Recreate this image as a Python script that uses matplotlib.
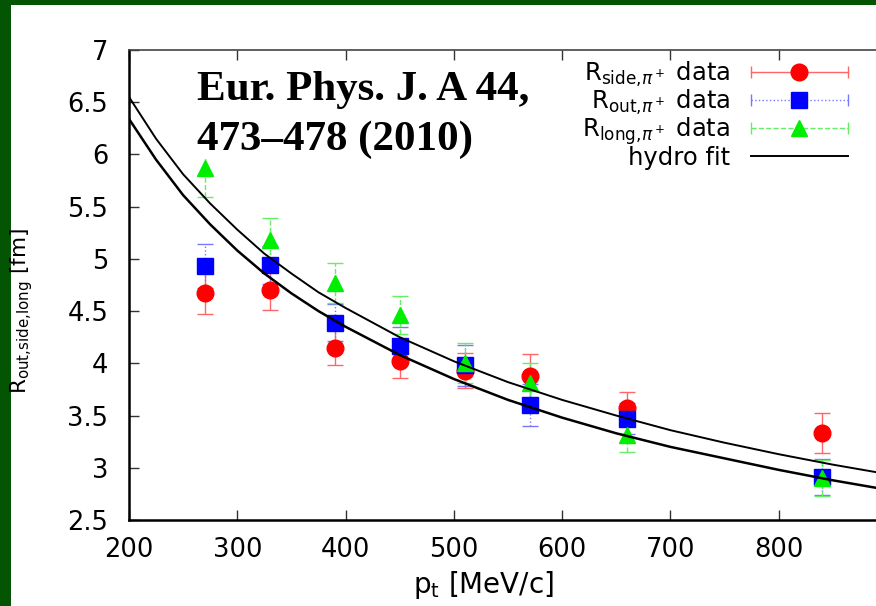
import matplotlib
matplotlib.use('Agg')
import matplotlib.pyplot as plt
from matplotlib.legend_handler import HandlerBase
from matplotlib.lines import Line2D
from matplotlib.patches import Rectangle

# pion HBT radii vs transverse momentum
pt = [270, 330, 390, 450, 510, 570, 660, 840]
r_side = [4.67, 4.70, 4.15, 4.02, 3.93, 3.88, 3.57, 3.33]
r_side_err = [0.20, 0.19, 0.17, 0.16, 0.17, 0.21, 0.16, 0.19]
r_out = [4.93, 4.94, 4.39, 4.17, 3.98, 3.60, 3.47, 2.91]
r_out_err = [0.21, 0.18, 0.18, 0.18, 0.20, 0.20, 0.15, 0.17]
r_long = [5.87, 5.18, 4.77, 4.46, 4.00, 3.81, 3.31, 2.90]
r_long_err = [0.28, 0.21, 0.19, 0.18, 0.19, 0.19, 0.16, 0.17]

# hydro fit curves
fit_pt = [200, 225, 250, 275, 300, 325, 350, 375, 400, 450, 500,
          550, 600, 650, 700, 750, 800, 850, 900]
fit_upper = [6.55, 6.15, 5.81, 5.53, 5.28, 5.05, 4.86, 4.68, 4.53, 4.25, 4.02,
             3.82, 3.65, 3.50, 3.36, 3.24, 3.13, 3.03, 2.94]
fit_lower = [6.34, 5.95, 5.61, 5.33, 5.08, 4.86, 4.67, 4.50, 4.35, 4.08, 3.85,
             3.65, 3.48, 3.33, 3.20, 3.09, 2.98, 2.88, 2.79]

yticks = [2.5, 3, 3.5, 4, 4.5, 5, 5.5, 6, 6.5, 7]
ytick_labels = ['2.5', '3', '3.5', '4', '4.5', '5', '5.5', '6', '6.5', '7']
xticks = [200, 300, 400, 500, 600, 700, 800]

ref_lines = ['Eur. Phys. J. A 44,', '473\u2013478 (2010)']

plt.rcParams['font.family'] = 'DejaVu Sans'
plt.rcParams['mathtext.fontset'] = 'dejavusans'


class GnuplotKey(HandlerBase):
    """key sample drawn like gnuplot: |----o----|"""

    def __init__(self, color, barcolor, ls, marker, ms):
        super().__init__()
        self.color = color
        self.barcolor = barcolor
        self.ls = ls
        self.marker = marker
        self.ms = ms

    def create_artists(self, legend, orig_handle, xdescent, ydescent,
                       width, height, fontsize, trans):
        x0, x1 = -xdescent, -xdescent + width
        y = height / 2 - ydescent
        bar = Line2D([x0, x1], [y, y], color=self.barcolor, ls=self.ls, lw=1)
        caps = Line2D([x0, x1], [y, y], ls='none', marker='|', ms=8,
                      color=self.barcolor, mew=1)
        mk = Line2D([(x0 + x1) / 2], [y], ls='none', marker=self.marker,
                    ms=self.ms, color=self.color)
        for a in (bar, caps, mk):
            a.set_transform(trans)
        return [bar, caps, mk]


fig = plt.figure(figsize=(8.76, 6.06), dpi=100, facecolor='#035403')
fig.patches.append(Rectangle((11 / 876, 0), 1, 1 - 5 / 606,
                             transform=fig.transFigure, facecolor='white',
                             edgecolor='none', zorder=-10))

ax = fig.add_axes([129 / 876, 86 / 606, 758 / 876, 470 / 606])
ax.set_facecolor('white')

series = [
    (r_side, r_side_err, '#ff0000', '#ff6666', '-', 'o', 12),
    (r_out, r_out_err, '#0000ff', '#7777ff', ':', 's', 11),
    (r_long, r_long_err, '#00ee00', '#66ee66', '--', '^', 12),
]
handles = []
hmap = {}
for vals, errs, col, barcol, ls, mk, ms in series:
    eb = ax.errorbar(pt, vals, yerr=errs, fmt=mk, color=col, ms=ms,
                     ecolor=barcol, elinewidth=1, capsize=6, capthick=1,
                     zorder=3)
    eb[2][0].set_linestyle(ls)
    proxy = Line2D([], [])
    handles.append(proxy)
    hmap[proxy] = GnuplotKey(col, barcol, ls, mk, ms)

fit_line, = ax.plot(fit_pt, fit_upper, color='black', lw=1.4, zorder=4)
ax.plot(fit_pt, fit_lower, color='black', lw=1.8, zorder=4)
handles.append(fit_line)

labels = [r'R$_{\mathrm{side{,}}\pi^+}$ data',
          r'R$_{\mathrm{out{,}}\pi^+}$ data',
          r'R$_{\mathrm{long{,}}\pi^+}$ data',
          'hydro fit']

leg = ax.legend(handles, labels, handler_map=hmap, markerfirst=False,
                frameon=False, fontsize=17.5, handlelength=4.0,
                handletextpad=0.85, labelspacing=-0.06, borderpad=0,
                borderaxespad=0, loc='upper right',
                bbox_to_anchor=(848 / 876, 1 - 60 / 606),
                bbox_transform=fig.transFigure)

ax.set_xlim(200, 900)
ax.set_ylim(2.5, 7)
ax.set_xticks(xticks)
ax.set_yticks(yticks)
ax.set_yticklabels(ytick_labels)
ax.tick_params(direction='in', length=7, width=1, top=True, right=True,
               labelsize=18.5, color='#333333')
ax.tick_params(axis='y', pad=15)
ax.tick_params(axis='x', pad=12)
for side in ('left', 'bottom'):
    ax.spines[side].set_linewidth(1.8)
ax.spines['top'].set_linewidth(1.2)
ax.spines['top'].set_color('#444444')

fig.text(22 / 876, 1 - 311 / 606, r'R$_{\mathrm{out{,}side{,}long}}$ [fm]',
         rotation=90, ha='center', va='center', fontsize=15.5)
fig.text(484 / 876, 1 - 585 / 606, r'p$_\mathrm{t}$ [MeV/c]',
         ha='center', va='center', fontsize=20)

# journal reference, one text per line so the baselines sit exactly
for line, base in zip(ref_lines, (100, 150)):
    ax.text(197 / 876, 1 - base / 606, line,
            transform=fig.transFigure, ha='left', va='baseline',
            family='Liberation Serif', fontweight='bold', fontsize=31,
            zorder=6, bbox=dict(facecolor='white', edgecolor='none', pad=0))

fig.savefig('out.png', dpi=100, facecolor=fig.get_facecolor())
